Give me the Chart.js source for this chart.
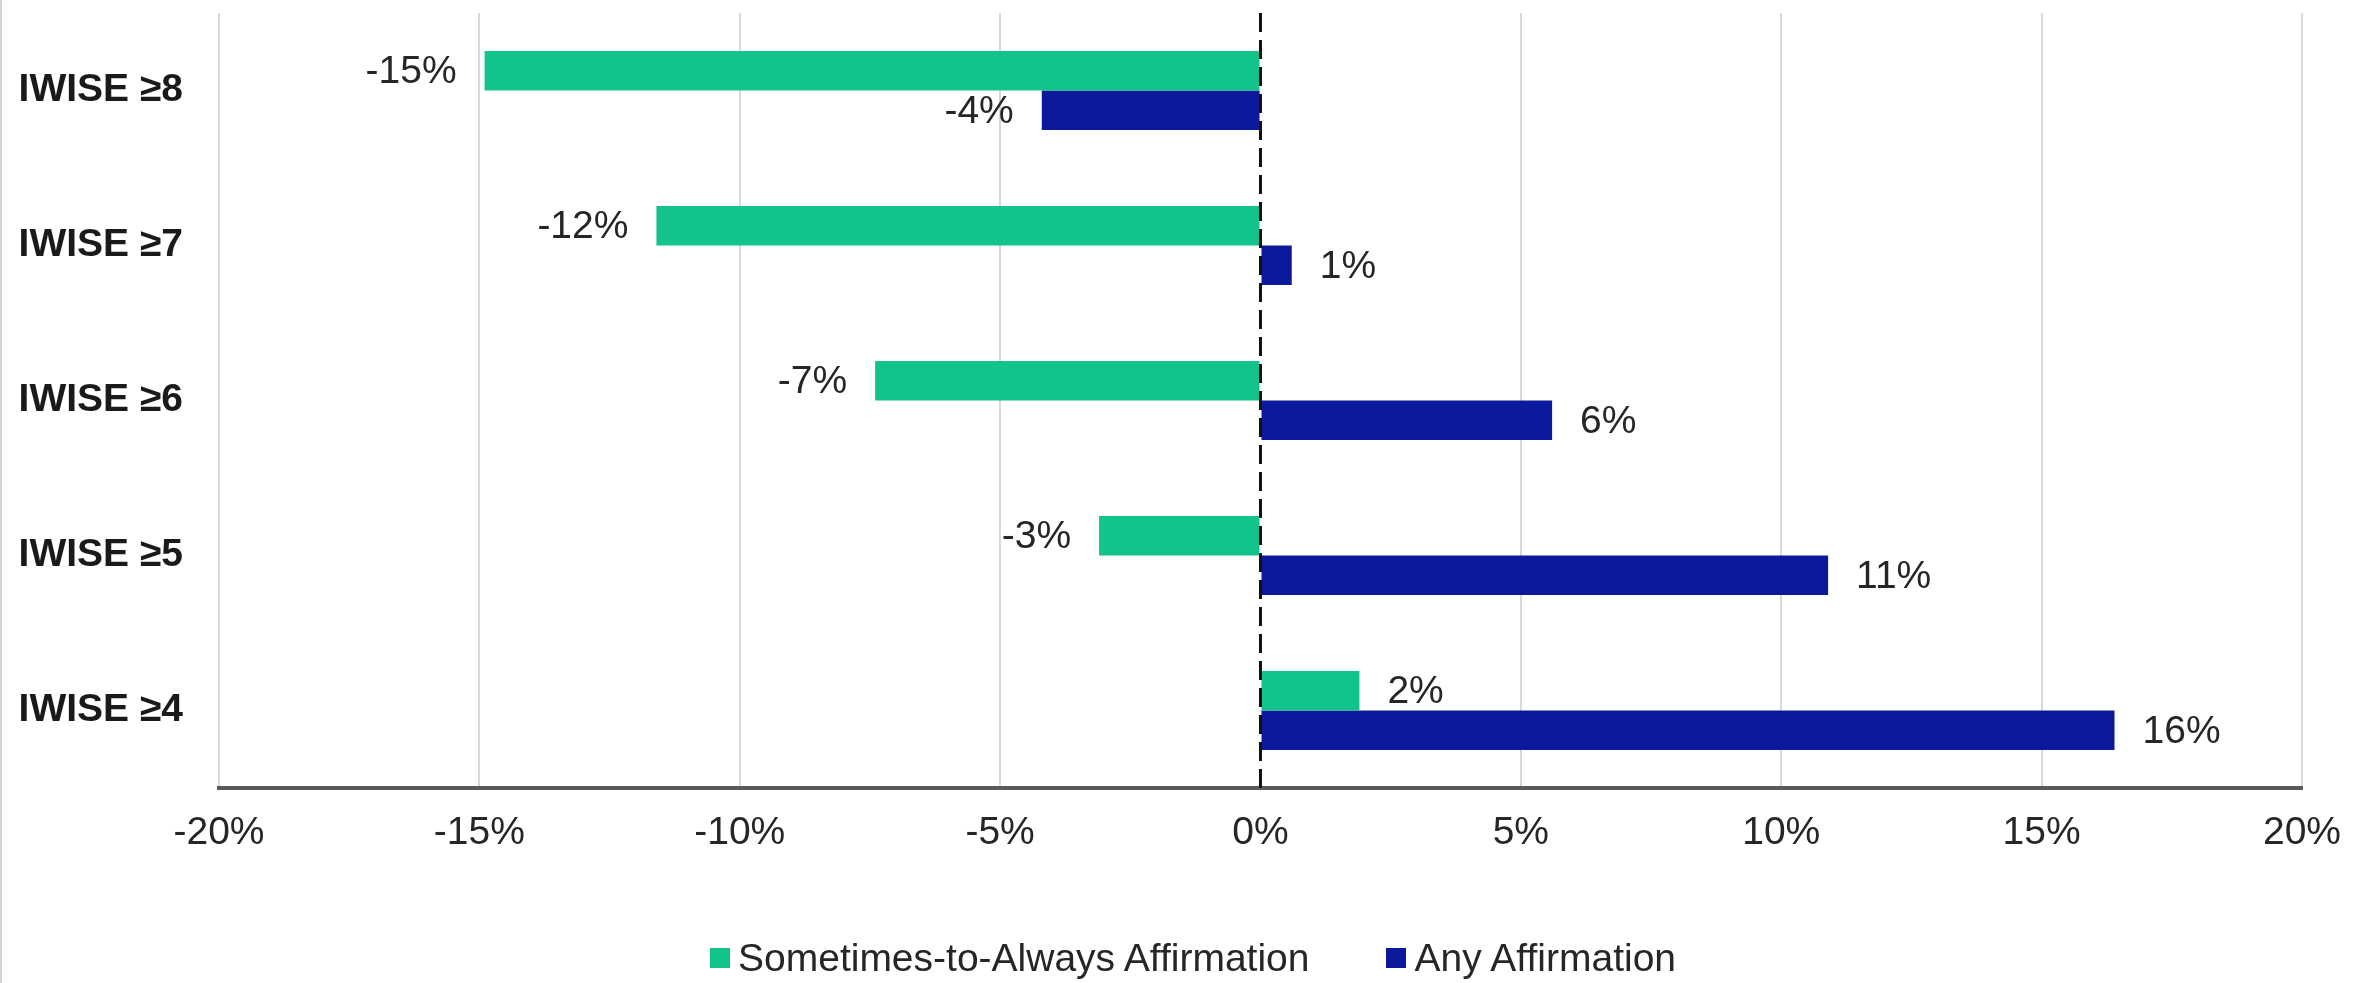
<!DOCTYPE html>
<html>
<head>
<meta charset="utf-8">
<title>IWISE thresholds</title>
<script src="https://cdn.jsdelivr.net/npm/chart.js@4.4.1/dist/chart.umd.min.js"></script>
<style>
  html, body { margin: 0; padding: 0; background: #fff; }
  #wrap { position: relative; width: 2363px; height: 983px; }
  #legend {
    position: absolute; left: 710px; top: 935px;
    display: flex; align-items: center;
    font: 39px "Liberation Sans", Arial, sans-serif; color: #262626;
    line-height: 46px; white-space: nowrap;
  }
  #legend .item { display: flex; align-items: center; }
  #legend .item + .item { margin-left: 77px; }
  #legend .box { width: 20px; height: 20px; margin-right: 8px; }
</style>
</head>
<body>
<div id="wrap">
  <canvas id="chart" width="2363" height="983"></canvas>
  <div id="legend"></div>
</div>
<script>
// difference in share of respondents, by IWISE cut-off
const categories = ['IWISE ≥8', 'IWISE ≥7', 'IWISE ≥6', 'IWISE ≥5', 'IWISE ≥4'];
const sometimesValues = [-14.9, -11.6, -7.4, -3.1, 1.9];
const anyValues = [-4.2, 0.6, 5.6, 10.9, 16.4];
const seriesNames = ['Sometimes-to-Always Affirmation', 'Any Affirmation'];
const seriesColors = ['#12c48b', '#0b1a9a'];
const xTicks = [-20, -15, -10, -5, 0, 5, 10, 15, 20];

const FONT = '"Liberation Sans", Arial, sans-serif';
const TEXT = '#262626';

Chart.defaults.font.family = FONT;

// thin frame line down the left edge
const frame = {
    id: 'frame',
    beforeDraw(chart) {
        const ctx = chart.ctx;
        ctx.save();
        ctx.fillStyle = '#d6d6d6';
        ctx.fillRect(0, 0, 2, chart.height);
        ctx.restore();
    }
};

// dashed line at 0%
const zeroLine = {
    id: 'zeroLine',
    afterDatasetsDraw(chart) {
        const { ctx, chartArea, scales } = chart;
        const x = scales.x.getPixelForValue(0);
        ctx.save();
        ctx.strokeStyle = '#111';
        ctx.lineWidth = 3;
        ctx.setLineDash([19, 8]);
        ctx.beginPath();
        ctx.moveTo(x, chartArea.top);
        ctx.lineTo(x, chartArea.bottom);
        ctx.stroke();
        ctx.restore();
    }
};

// percentage labels just past the end of each bar
const valueLabels = {
    id: 'valueLabels',
    afterDatasetsDraw(chart) {
        const ctx = chart.ctx;
        ctx.save();
        ctx.font = '39px ' + FONT;
        ctx.fillStyle = TEXT;
        ctx.textBaseline = 'middle';
        chart.data.datasets.forEach((ds, i) => {
            chart.getDatasetMeta(i).data.forEach((bar, j) => {
                const v = ds.data[j];
                const text = Math.round(v) + '%';
                if (v < 0) {
                    ctx.textAlign = 'right';
                    ctx.fillText(text, bar.x - 28, bar.y + 2);
                } else {
                    ctx.textAlign = 'left';
                    ctx.fillText(text, bar.x + 28, bar.y + 2);
                }
            });
        });
        ctx.restore();
    }
};

const ctx = document.getElementById('chart').getContext('2d');
const chart = new Chart(ctx, {
    type: 'bar',
    data: {
        labels: categories,
        datasets: seriesNames.map((name, i) => ({
            label: name,
            data: i === 0 ? sometimesValues : anyValues,
            backgroundColor: seriesColors[i],
            categoryPercentage: 0.51,
            barPercentage: 1.0,
        }))
    },
    options: {
        indexAxis: 'y',
        responsive: false,
        devicePixelRatio: 1,
        animation: false,
        layout: {
            padding: { top: 13, right: 51, bottom: 122, left: 0 }
        },
        plugins: {
            tooltip: { enabled: false },
            legend: { display: false },
        },
        scales: {
            x: {
                min: -20,
                max: 20,
                afterBuildTicks: scale => {
                    scale.ticks = xTicks.map(v => ({ value: v }));
                },
                ticks: {
                    color: TEXT,
                    font: { size: 39 },
                    padding: 22,
                    maxRotation: 0,
                    callback: v => v + '%',
                },
                grid: {
                    color: c => (c.tick && c.tick.value === 0) ? 'rgba(0,0,0,0)' : '#d9d9d9',
                    lineWidth: 2,
                    drawTicks: false,
                },
                border: { display: true, color: '#5a5a5a', width: 4 },
                afterFit: scale => { scale.height = 73; },
            },
            y: {
                ticks: {
                    color: '#1a1a1a',
                    font: { size: 39, weight: 'bold' },
                    padding: 36,
                },
                grid: { display: false, drawTicks: false },
                border: { display: false },
                afterFit: scale => {
                    scale.width = 219;
                    scale.paddingTop = 0;
                    scale.paddingBottom = 0;
                },
            },
        },
    },
    plugins: [frame, zeroLine, valueLabels],
});

// legend below the plot, built from the same series
const legend = document.getElementById('legend');
chart.data.datasets.forEach(ds => {
    const item = document.createElement('span');
    item.className = 'item';
    const box = document.createElement('span');
    box.className = 'box';
    box.style.background = ds.backgroundColor;
    item.appendChild(box);
    item.appendChild(document.createTextNode(ds.label));
    legend.appendChild(item);
});
</script>
</body>
</html>
